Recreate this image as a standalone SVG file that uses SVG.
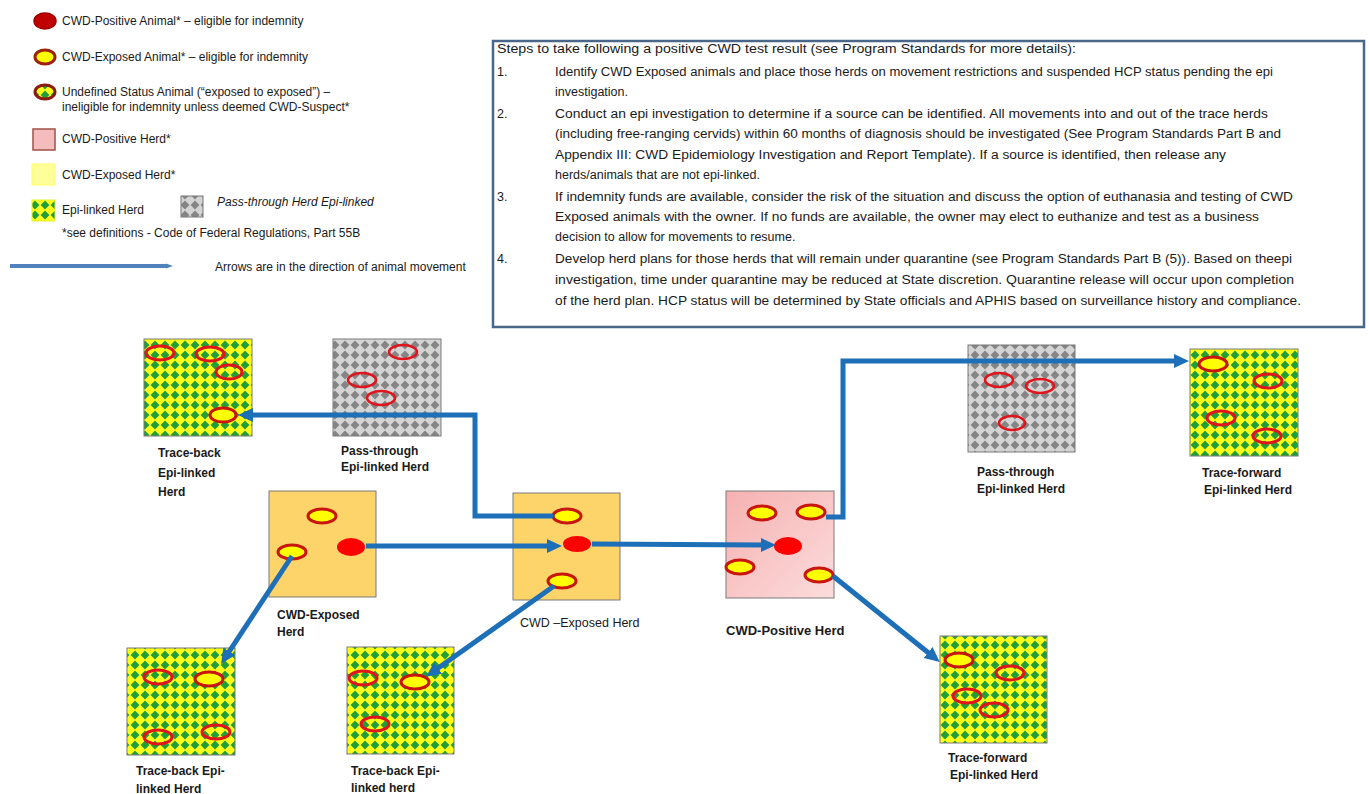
<svg xmlns="http://www.w3.org/2000/svg" width="1369" height="794" viewBox="0 0 1369 794">
<defs>
  <pattern id="epi" width="10" height="10" patternUnits="userSpaceOnUse">
    <rect width="10" height="10" fill="#ffff1a"/>
    <path d="M5,0.6 L9.4,5 L5,9.4 L0.6,5 Z" fill="#1f9e3a"/>
  </pattern>
  <pattern id="pass" width="10" height="10" patternUnits="userSpaceOnUse">
    <rect width="10" height="10" fill="#d4d4d4"/>
    <path d="M5,0.6 L9.4,5 L5,9.4 L0.6,5 Z" fill="#858585"/>
  </pattern>
  <linearGradient id="pink" x1="0" y1="0" x2="1" y2="1">
    <stop offset="0" stop-color="#f6b1b1"/>
    <stop offset="1" stop-color="#fcdcdc"/>
  </linearGradient>
  <marker id="ah" markerUnits="userSpaceOnUse" markerWidth="16" markerHeight="16" viewBox="0 0 16 16" refX="5" refY="8" orient="auto">
    <path d="M0,1 L15,8 L0,15 Z" fill="#1d6fb8"/>
  </marker>
  <marker id="ahs" markerUnits="userSpaceOnUse" markerWidth="8" markerHeight="8" viewBox="0 0 8 8" refX="2" refY="4" orient="auto">
    <path d="M0,1.5 L7,4 L0,6.5 Z" fill="#4f81bd"/>
  </marker>
  <style>
    text { font-family: "Liberation Sans", Arial, sans-serif; fill: #1a1a1a; }
    .lg { font-size: 12px; }
    .tb { font-size: 12.5px; }
    .lbl { font-size: 12px; font-weight: bold; }
    .sq { stroke: #7a7a7a; stroke-width: 1; }
    .ring { fill: none; stroke: #e0141c; stroke-width: 3; }
    .yel { fill: #ffff00; stroke: #c8160e; stroke-width: 3; }
    .red { fill: #ff0000; stroke: none; }
    .pr { fill: none; stroke: #e0141c; stroke-width: 2.5; }
    .conn { fill: none; stroke: #1d6fb8; stroke-width: 5; marker-end: url(#ah); }
  </style>
</defs>
<rect width="1369" height="794" fill="#ffffff"/>

<!-- Legend -->
<g id="legend">
  <ellipse cx="45" cy="21" rx="11" ry="8" fill="#c00000" stroke="#a00000" stroke-width="1.5"/>
  <text class="lg" x="62" y="25">CWD-Positive Animal* – eligible for indemnity</text>
  <ellipse cx="45" cy="57" rx="10" ry="7" fill="#ffff00" stroke="#a0200a" stroke-width="3"/>
  <text class="lg" x="62" y="61">CWD-Exposed Animal* – eligible for indemnity</text>
  <ellipse cx="45" cy="92" rx="10" ry="7" fill="url(#epi)" stroke="#8c1a10" stroke-width="3"/>
  <text class="lg" x="62" y="96">Undefined Status Animal (“exposed to exposed”) –</text>
  <text class="lg" x="62" y="111">ineligible for indemnity unless deemed CWD-Suspect*</text>
  <rect x="33" y="129" width="22" height="21" fill="#f4bcbc" stroke="#a0504a" stroke-width="1.5"/>
  <text class="lg" x="62" y="143">CWD-Positive Herd*</text>
  <rect x="32" y="164" width="23" height="21" fill="#ffff99" stroke="#ffff66" stroke-width="1"/>
  <text class="lg" x="62" y="179">CWD-Exposed Herd*</text>
  <rect x="32" y="200" width="23" height="21" fill="url(#epi)" stroke="#e6ef33" stroke-width="1"/>
  <text class="lg" x="62" y="214">Epi-linked Herd</text>
  <rect x="181" y="196" width="22" height="21" fill="url(#pass)" stroke="#777" stroke-width="1"/>
  <text class="lg" x="217" y="206" font-style="italic">Pass-through  Herd Epi-linked</text>
  <text class="lg" x="62" y="237">*see definitions - Code of Federal Regulations, Part 55B</text>
  <line x1="10" y1="266" x2="168" y2="266" stroke="#4f81bd" stroke-width="4" marker-end="url(#ahs)"/>
  <text class="lg" x="215" y="271">Arrows are in the direction  of animal movement</text>
</g>

<!-- Steps text box -->
<g id="steps">
  <rect x="493" y="41" width="871" height="286" fill="#ffffff" stroke="#4a6688" stroke-width="2.5"/>
  <text class="tb" x="497" y="53" textLength="579" lengthAdjust="spacingAndGlyphs">Steps to take following a positive CWD test result (see Program Standards for more details):</text>
  <text class="tb" x="497" y="76">1.</text>
  <text class="tb" x="555" y="76" textLength="718" lengthAdjust="spacingAndGlyphs">Identify CWD Exposed animals and place those herds on movement restrictions and suspended HCP status pending the epi</text>
  <text class="tb" x="555" y="96">investigation.</text>
  <text class="tb" x="497" y="118">2.</text>
  <text class="tb" x="555" y="118" textLength="713" lengthAdjust="spacingAndGlyphs">Conduct an epi investigation to determine if a source can be identified. All movements into and out of the trace herds</text>
  <text class="tb" x="555" y="138" textLength="726" lengthAdjust="spacingAndGlyphs">(including free-ranging cervids) within 60 months of diagnosis should be investigated (See Program Standards Part B and</text>
  <text class="tb" x="555" y="159" textLength="671" lengthAdjust="spacingAndGlyphs">Appendix III: CWD Epidemiology Investigation and Report Template). If a source is identified, then release any</text>
  <text class="tb" x="555" y="179">herds/animals that are not epi-linked.</text>
  <text class="tb" x="497" y="201">3.</text>
  <text class="tb" x="555" y="201" textLength="738" lengthAdjust="spacingAndGlyphs">If indemnity funds are available, consider the risk of the situation and discuss the option of euthanasia and testing of CWD</text>
  <text class="tb" x="555" y="221" textLength="704" lengthAdjust="spacingAndGlyphs">Exposed animals with the owner. If no funds are available, the owner may elect to euthanize and test as a business</text>
  <text class="tb" x="555" y="241">decision to allow for movements to resume.</text>
  <text class="tb" x="497" y="263">4.</text>
  <text class="tb" x="555" y="263" textLength="737" lengthAdjust="spacingAndGlyphs">Develop herd plans for those herds that will remain under quarantine (see Program Standards Part B (5)). Based on theepi</text>
  <text class="tb" x="555" y="284" textLength="739" lengthAdjust="spacingAndGlyphs">investigation, time under quarantine may be reduced at State discretion. Quarantine release will occur upon completion</text>
  <text class="tb" x="555" y="305" textLength="746" lengthAdjust="spacingAndGlyphs">of the herd plan. HCP status will be determined by State officials and APHIS based on surveillance history and compliance.</text>
</g>

<!-- Nodes -->
<g id="traceback-top">
  <rect class="sq" x="144" y="339" width="108" height="97" fill="url(#epi)"/>
  <ellipse class="ring" cx="160" cy="353" rx="14" ry="7"/>
  <ellipse class="ring" cx="210" cy="354" rx="14" ry="7"/>
  <ellipse class="ring" cx="229" cy="372" rx="13" ry="7"/>
  <ellipse class="yel" cx="223" cy="415" rx="13" ry="7"/>
  <text class="lbl" x="158" y="457">Trace-back</text>
  <text class="lbl" x="158" y="477">Epi-linked</text>
  <text class="lbl" x="158" y="496">Herd</text>
</g>

<g id="passthrough-top">
  <rect class="sq" x="333" y="339" width="108" height="97" fill="url(#pass)"/>
  <ellipse class="pr" cx="403" cy="352" rx="14" ry="7"/>
  <ellipse class="pr" cx="362" cy="380" rx="14" ry="7"/>
  <ellipse class="pr" cx="381" cy="398" rx="14" ry="7"/>
  <text class="lbl" x="341" y="455">Pass-through</text>
  <text class="lbl" x="341" y="471">Epi-linked Herd</text>
</g>

<g id="exposed-left">
  <rect class="sq" x="269" y="491" width="107" height="106" fill="#fdd46a"/>
  <ellipse class="yel" cx="322" cy="516" rx="14" ry="7"/>
  <ellipse class="yel" cx="292" cy="552" rx="14" ry="7"/>
  <ellipse class="red" cx="351" cy="547" rx="14" ry="9"/>
  <text class="lbl" x="277" y="619">CWD-Exposed</text>
  <text class="lbl" x="277" y="636">Herd</text>
</g>

<g id="exposed-mid">
  <rect class="sq" x="513" y="493" width="107" height="107" fill="#fdd46a"/>
  <ellipse class="yel" cx="567" cy="516" rx="14" ry="7"/>
  <ellipse class="red" cx="577" cy="544" rx="14" ry="8"/>
  <ellipse class="yel" cx="562" cy="581" rx="14" ry="7"/>
  <text class="lbl" x="520" y="627" style="font-weight:normal;font-size:12.5px">CWD –Exposed Herd</text>
</g>

<g id="positive">
  <rect class="sq" x="726" y="491" width="108" height="107" fill="url(#pink)"/>
  <ellipse class="yel" cx="762" cy="513" rx="14" ry="7"/>
  <ellipse class="yel" cx="811" cy="512" rx="14" ry="7"/>
  <ellipse class="red" cx="788" cy="546" rx="14" ry="9"/>
  <ellipse class="yel" cx="740" cy="567" rx="14" ry="7"/>
  <ellipse class="yel" cx="819" cy="575" rx="14" ry="7"/>
  <text class="lbl" x="726" y="635" style="font-size:13px">CWD-Positive Herd</text>
</g>

<g id="passthrough-right">
  <rect class="sq" x="968" y="345" width="107" height="107" fill="url(#pass)"/>
  <ellipse class="pr" cx="999" cy="380" rx="14" ry="7"/>
  <ellipse class="pr" cx="1040" cy="386" rx="14" ry="7"/>
  <ellipse class="pr" cx="1012" cy="423" rx="13" ry="7"/>
  <text class="lbl" x="977" y="476">Pass-through</text>
  <text class="lbl" x="977" y="493">Epi-linked Herd</text>
</g>

<g id="traceforward-top">
  <rect class="sq" x="1190" y="349" width="108" height="107" fill="url(#epi)"/>
  <ellipse class="yel" cx="1213" cy="364" rx="14" ry="7"/>
  <ellipse class="ring" cx="1268" cy="381" rx="14" ry="7"/>
  <ellipse class="ring" cx="1221" cy="418" rx="14" ry="7"/>
  <ellipse class="ring" cx="1267" cy="436" rx="14" ry="7"/>
  <text class="lbl" x="1202" y="477">Trace-forward</text>
  <text class="lbl" x="1204" y="494">Epi-linked Herd</text>
</g>

<g id="traceforward-bottom">
  <rect class="sq" x="940" y="636" width="107" height="107" fill="url(#epi)"/>
  <ellipse class="yel" cx="959" cy="660" rx="14" ry="7"/>
  <ellipse class="ring" cx="1010" cy="673" rx="14" ry="7"/>
  <ellipse class="ring" cx="967" cy="696" rx="14" ry="7"/>
  <ellipse class="ring" cx="994" cy="710" rx="14" ry="7"/>
  <text class="lbl" x="948" y="762">Trace-forward</text>
  <text class="lbl" x="950" y="779">Epi-linked Herd</text>
</g>

<g id="traceback-bottom-left">
  <rect class="sq" x="127" y="648" width="108" height="107" fill="url(#epi)"/>
  <ellipse class="ring" cx="158" cy="677" rx="14" ry="7"/>
  <ellipse class="yel" cx="209" cy="679" rx="14" ry="7"/>
  <ellipse class="ring" cx="158" cy="737" rx="14" ry="7"/>
  <ellipse class="ring" cx="216" cy="732" rx="14" ry="7"/>
  <text class="lbl" x="136" y="775">Trace-back Epi-</text>
  <text class="lbl" x="136" y="793">linked Herd</text>
</g>

<g id="traceback-bottom-mid">
  <rect class="sq" x="347" y="647" width="107" height="107" fill="url(#epi)"/>
  <ellipse class="ring" cx="363" cy="678" rx="14" ry="7"/>
  <ellipse class="yel" cx="415" cy="682" rx="14" ry="7"/>
  <ellipse class="ring" cx="375" cy="724" rx="14" ry="7"/>
  <text class="lbl" x="351" y="775">Trace-back Epi-</text>
  <text class="lbl" x="351" y="792">linked herd</text>
</g>

<!-- Connectors -->
<g id="connectors">
  <path class="conn" d="M553,516 H475 V415 H248"/>
  <path class="conn" d="M366,546 H552"/>
  <path class="conn" d="M592,544 L766,545"/>
  <path class="conn" d="M826,517 H843 V361 H1179"/>
  <path class="conn" d="M833,576 L932,655.7"/>
  <path class="conn" d="M292,556 L226.5,655.6"/>
  <path class="conn" d="M554,586 L434,671"/>
</g>
</svg>
